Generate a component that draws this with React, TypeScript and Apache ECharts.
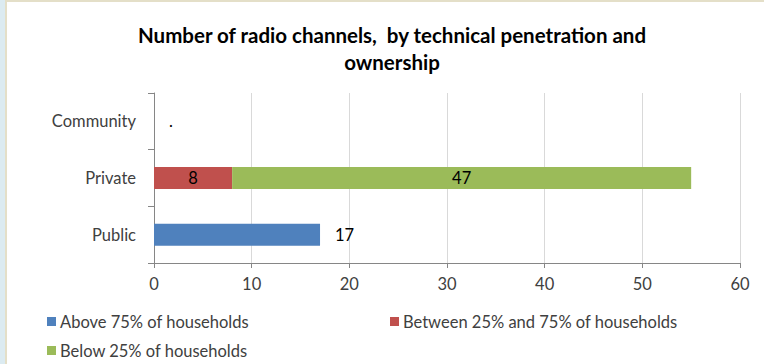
import React, { useEffect, useRef } from "react";
import * as echarts from "echarts";

const titleText = "Number of radio channels,  by technical penetration and\nownership";
const categories = ["Public", "Private", "Community"];
const seriesNames = [
  "Above 75% of households",
  "Between 25% and 75% of households",
  "Below 25% of households",
];
const aboveValues = [17, 0, 0];
const betweenValues = [0, 8, 0];
const belowValues = [0, 47, 0];
const xTicks = { min: 0, max: 60, interval: 10 };

const colors = ["#4F81BD", "#C0504D", "#9BBB59"];
const FONT = "Lato, 'Open Sans', sans-serif";
const FS = 16.5;

export default function App() {
  const ref = useRef<HTMLDivElement>(null);
  useEffect(() => {
    if (!ref.current) return;
    const chart = echarts.init(ref.current, undefined, { renderer: "svg" });
    const legendBase = {
      orient: "horizontal" as const,
      itemWidth: 9,
      itemHeight: 9,
      itemGap: 4,
      icon: "rect",
      padding: 0,
      textStyle: { fontSize: FS, color: "#404040", fontFamily: FONT, padding: [0, 0, 0, -1] },
      selectedMode: false,
    };
    const nz = (p: any) => (p.value > 0 ? String(p.value) : "");
    chart.setOption({
      animation: false,
      backgroundColor: "#FFFFFF",
      textStyle: { fontFamily: FONT },
      graphic: [
        { type: "rect", shape: { x: 0, y: 0, width: 5, height: 364 }, style: { fill: "#DCEBF1" }, silent: true },
        { type: "rect", shape: { x: 5, y: 0, width: 2, height: 364 }, style: { fill: "#E4DFC8" }, silent: true },
        { type: "rect", shape: { x: 5, y: 0, width: 759, height: 2 }, style: { fill: "#E4DFC8" }, silent: true },
      ],
      title: {
        text: titleText,
        left: 392,
        top: 21,
        padding: 0,
        textAlign: "center",
        textStyle: {
          fontSize: 20.5,
          fontWeight: "bold",
          color: "#000000",
          lineHeight: 27,
          fontFamily: FONT,
        },
      },
      legend: [
        { ...legendBase, left: 47, top: 313, data: [seriesNames[0]] },
        { ...legendBase, left: 390, top: 313, data: [seriesNames[1]] },
        { ...legendBase, left: 47, top: 342, data: [seriesNames[2]] },
      ],
      grid: { left: 154, right: 24, top: 93, bottom: 101, containLabel: false },
      xAxis: {
        type: "value",
        min: xTicks.min,
        max: xTicks.max,
        interval: xTicks.interval,
        axisLine: { show: true, lineStyle: { color: "#868686" } },
        axisTick: { show: true, length: 5, lineStyle: { color: "#868686" } },
        axisLabel: { fontSize: FS, color: "#404040", margin: 12, fontFamily: FONT },
        splitLine: { show: true, lineStyle: { color: "#D9D9D9" } },
      },
      yAxis: {
        type: "category",
        data: categories,
        axisLine: { show: true, lineStyle: { color: "#868686" } },
        axisTick: { show: true, length: 6, lineStyle: { color: "#868686" } },
        axisLabel: { fontSize: FS, color: "#404040", margin: 18, fontFamily: FONT },
        splitLine: { show: false },
      },
      series: [
        {
          name: seriesNames[0],
          type: "bar",
          stack: "total",
          barWidth: 22,
          data: aboveValues,
          itemStyle: { color: colors[0] },
          label: {
            show: true,
            position: "right",
            distance: 15,
            fontSize: FS,
            color: "#000000",
            fontFamily: FONT,
            formatter: (p: any) => (p.dataIndex === 2 ? "." : nz(p)),
          },
        },
        {
          name: seriesNames[1],
          type: "bar",
          stack: "total",
          barWidth: 22,
          data: betweenValues,
          itemStyle: { color: colors[1] },
          label: { show: true, position: "inside", fontSize: FS, color: "#000000", fontFamily: FONT, formatter: nz },
        },
        {
          name: seriesNames[2],
          type: "bar",
          stack: "total",
          barWidth: 22,
          data: belowValues,
          itemStyle: { color: colors[2] },
          label: { show: true, position: "inside", fontSize: FS, color: "#000000", fontFamily: FONT, formatter: nz },
        },
      ],
    });
    return () => chart.dispose();
  }, []);
  return (
    <div
      ref={ref}
      style={{ position: "fixed", left: 0, top: 0, width: 764, height: 364 }}
    />
  );
}
